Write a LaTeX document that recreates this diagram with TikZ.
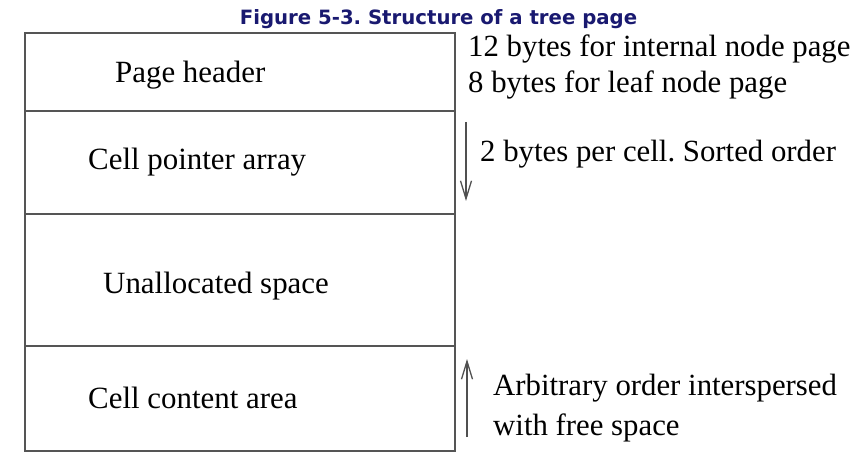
\documentclass[tikz,border=0pt]{standalone}
\usepackage{fontspec}
\setmainfont{Liberation Serif}
\newfontfamily\titlefont{DejaVu Sans}
\usetikzlibrary{arrows.meta}
\definecolor{titleblue}{RGB}{25,25,112}
\definecolor{boxline}{RGB}{85,85,85}
\definecolor{arrowgray}{RGB}{80,80,80}
\frenchspacing
\tikzset{
  region/.style={draw=boxline, line width=1.6pt, minimum width=430pt, inner sep=0pt, anchor=north west},
  boxlabel/.style={anchor=base west, inner sep=0pt, font=\fontsize{30.9}{36}\selectfont},
  notelabel/.style={anchor=base west, inner sep=0pt, font=\fontsize{30.8}{36}\selectfont},
  growarrow/.style={draw=arrowgray, line width=1.4pt, -{Straight Barb[length=18pt,width=11pt,line width=1.3pt]}},
  caption/.style={anchor=base, inner sep=0pt, text=titleblue, font=\titlefont\bfseries\fontsize{19.7}{24}\selectfont}
}
\begin{document}
\begin{tikzpicture}[x=1pt,y=-1pt]
\useasboundingbox (0,0) rectangle (865,465);
\node[caption] (title) at (438.5,25) {Figure 5-3. Structure of a tree page};
\node[region, minimum height=78pt] (header) at (24,32) {};
\node[region, minimum height=103pt] (pointers) at (24,110) {};
\node[region, minimum height=132pt] (unalloc) at (24,213) {};
\node[region, minimum height=105pt] (content) at (24,345) {};
\node[boxlabel] (lh) at (115,83) {Page header};
\node[boxlabel] (lp) at (88,170) {Cell pointer array};
\node[boxlabel] (lu) at (103,293) {Unallocated space};
\node[boxlabel] (lc) at (88,408) {Cell content area};
\node[notelabel] (n1) at (468,57) {12 bytes for internal node page};
\node[notelabel] (n2) at (468,93) {8 bytes for leaf node page};
\node[notelabel] (n3) at (480,162) {2 bytes per cell. Sorted order};
\node[notelabel] (n4) at (493,395) {Arbitrary order interspersed};
\node[notelabel] (n5) at (493,435) {with free space};
\coordinate (d1) at (466,122);
\coordinate (d2) at (466,201);
\coordinate (u1) at (467,437);
\coordinate (u2) at (467,359);
\draw[growarrow] (d1) -- (d2);
\draw[growarrow] (u1) -- (u2);
\end{tikzpicture}
\end{document}
